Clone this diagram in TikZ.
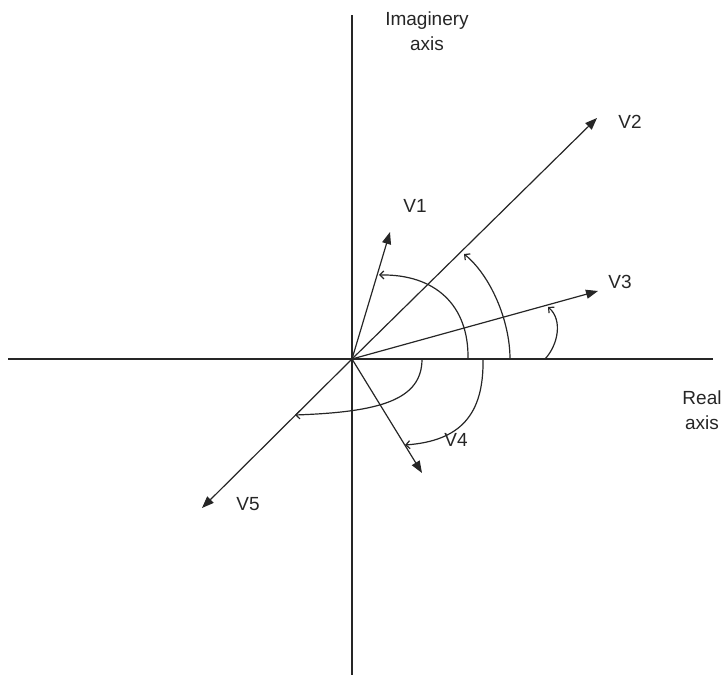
\documentclass[tikz,border=0pt]{standalone}
\usepackage{fontspec}
\setmainfont{Liberation Sans}
\usepackage{tikz}
\usetikzlibrary{arrows.meta, positioning}

\begin{document}
\begin{tikzpicture}[
    x=1pt, y=-1pt,
    axisline/.style={draw=black!85, line width=1.2pt},
    vec/.style={draw=black!85, line width=1.2pt, -{Triangle[length=12pt, width=9pt]}},
    turn/.style={draw=black!85, line width=1.2pt, -{Straight Barb[length=4pt, width=8pt]}},
    lbl/.style={font=\fontsize{19}{25}\selectfont, text=black!85, inner sep=0pt, align=center},
]
\useasboundingbox (0,0) rectangle (723,680);

% axes
\coordinate (O) at (352,359);
\coordinate (xl) at (8,359);
\coordinate (xr) at (713,359);
\coordinate (yt) at (352,15);
\coordinate (yb) at (352,675);
\draw[axisline] (xl) -- (xr);
\draw[axisline] (yt) -- (yb);

% vector tips
\coordinate (t1) at (390,232);
\coordinate (t2) at (597,118);
\coordinate (t3) at (598,291);
\coordinate (t4) at (422,473);
\coordinate (t5) at (202,508);

\foreach \t in {t1,t2,t3,t4,t5}{
  \draw[vec] (O) -- (\t);
}

% angle arcs
\draw[turn] (468,359) .. controls (469,305) and (435,274) .. (379,275);
\draw[turn] (510,359) .. controls (510,320) and (490,275) .. (464,254);
\draw[turn] (545,359) .. controls (558,345) and (563,320) .. (548,307);
\draw[turn] (483,359) .. controls (484,415) and (460,441) .. (405,445);
\draw[turn] (422,359) .. controls (422,400) and (380,412) .. (295,415);

% labels
\node[lbl] (imlbl) at (427,31) {Imaginery\\axis};
\node[lbl] (relbl) at (702,410) {Real\\axis};
\node[lbl] (v1) at (415,206) {V1};
\node[lbl] (v2) at (630,122) {V2};
\node[lbl] (v3) at (620,282) {V3};
\node[lbl] (v4) at (456,440) {V4};
\node[lbl] (v5) at (248,504) {V5};

\end{tikzpicture}
\end{document}
